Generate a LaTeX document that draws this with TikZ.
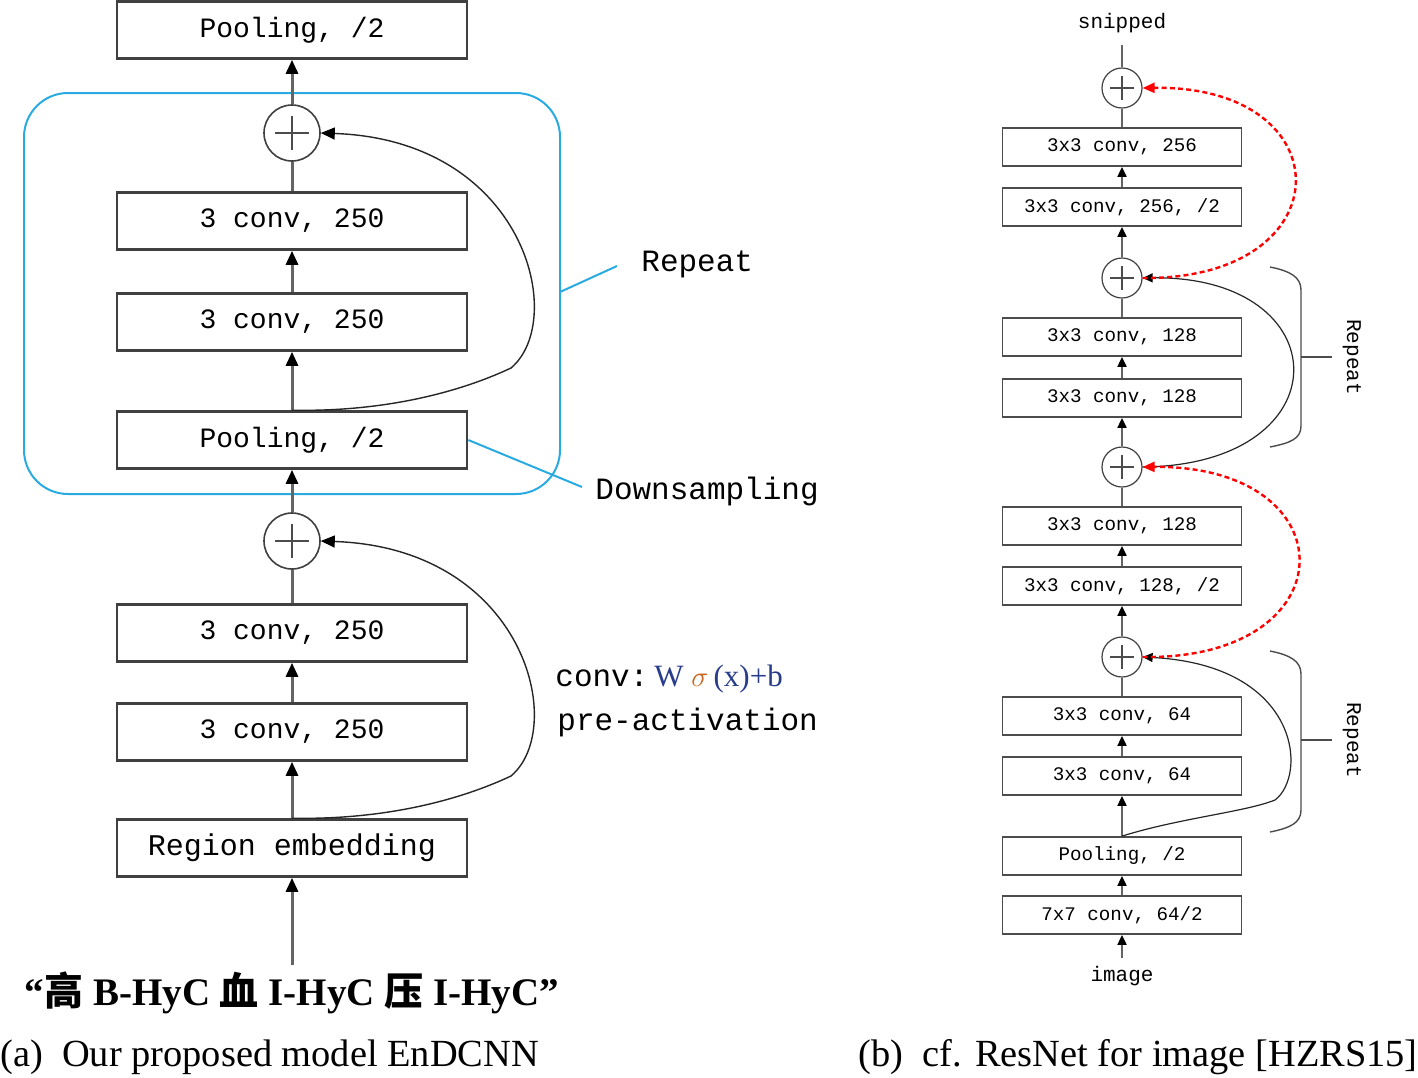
\documentclass[tikz,border=0pt]{standalone}
\usepackage{fontspec}
\setmainfont{Liberation Serif}
\setmonofont{Liberation Mono}
\newfontfamily\cjk{Noto Sans CJK SC}
\usetikzlibrary{arrows.meta}
\definecolor{repblue}{RGB}{41,171,226}
\definecolor{stemgray}{RGB}{100,100,100}
\definecolor{fblue}{RGB}{40,60,140}
\definecolor{forange}{RGB}{200,100,30}
\begin{document}
\begin{tikzpicture}[x=0.5pt,y=-0.5pt,
  lbox/.style={draw=black!75, fill=white, line width=1.3pt, minimum width=175pt, minimum height=28.5pt, inner sep=0pt, font=\ttfamily\fontsize{14}{14}\selectfont},
  rbox/.style={draw=black!70, fill=white, line width=0.9pt, minimum width=119.5pt, minimum height=19pt, inner sep=0pt, font=\ttfamily\fontsize{9.6}{9.6}\selectfont},
  lplus/.style={circle, draw=black!75, fill=white, line width=0.8pt, minimum size=28pt, inner sep=0pt,
    path picture={\draw[black!70,line width=1pt] ([xshift=-8.5pt]path picture bounding box.center) -- ([xshift=8.5pt]path picture bounding box.center) ([yshift=-8.5pt]path picture bounding box.center) -- ([yshift=8.5pt]path picture bounding box.center);}},
  rplus/.style={circle, draw=black!75, fill=white, line width=0.6pt, minimum size=20pt, inner sep=0pt,
    path picture={\draw[black!70,line width=0.8pt] ([xshift=-6pt]path picture bounding box.center) -- ([xshift=6pt]path picture bounding box.center) ([yshift=-6pt]path picture bounding box.center) -- ([yshift=6pt]path picture bounding box.center);}},
  lstem/.style={draw=stemgray, line width=1.5pt},
  larr/.style={lstem, -{Triangle[length=7pt,width=6pt,color=black]}},
  rstem/.style={draw=stemgray, line width=1pt},
  rarr/.style={rstem, -{Triangle[length=5pt,width=4.5pt,color=black]}},
  lskip/.style={draw=black!85, line width=0.7pt, -{Triangle[length=7pt,width=6pt,color=black]}},
  rskip/.style={draw=black!85, line width=0.6pt, -{Triangle[length=5pt,width=4.5pt,color=black]}},
  redskip/.style={draw=red, line width=1.2pt, dash pattern=on 2.5pt off 1.6pt, -{Triangle[length=6pt,width=5pt,color=red]}},
  mlabel/.style={font=\ttfamily\fontsize{15.5}{15.5}\selectfont, inner sep=0pt},
  rlabel/.style={font=\ttfamily\fontsize{10.5}{10.5}\selectfont, inner sep=0pt},
  bluel/.style={draw=repblue, line width=1pt},
  bracel/.style={draw=black!70, line width=0.7pt}
]
\fill[white] (0,0) rectangle (1418,1077);
\useasboundingbox (0,0) rectangle (1418,1077);

% ---------- left panel ----------
\draw[bluel, rounded corners=22pt] (24,93) rectangle (560,494);

\node[lbox] (p0) at (292,30) {Pooling, /2};
\node[lplus] (s1) at (292,133) {};
\node[lbox] (c1) at (292,221) {3 conv, 250};
\node[lbox] (c2) at (292,322) {3 conv, 250};
\node[lbox] (p1) at (292,440) {Pooling, /2};
\node[lplus] (s2) at (292,541) {};
\node[lbox] (c3) at (292,633) {3 conv, 250};
\node[lbox] (c4) at (292,732) {3 conv, 250};
\node[lbox, font=\ttfamily\fontsize{15}{15}\selectfont] (re) at (292,848) {Region embedding};
\coordinate (inTop) at (292,965);
\node[font=\bfseries\fontsize{19.5}{19.5}\selectfont, inner sep=0pt] (inp) at (292,993) {“{\cjk 高} B-HyC {\cjk 血} I-HyC {\cjk 压} I-HyC”};

\draw[larr] (s1.north) -- (p0.south);
\draw[lstem] (c1.north) -- (s1.south);
\draw[larr] (c2.north) -- (c1.south);
\draw[larr] (p1.north) -- (c2.south);
\draw[larr] (s2.north) -- (p1.south);
\draw[lstem] (c3.north) -- (s2.south);
\draw[larr] (c4.north) -- (c3.south);
\draw[larr] (re.north) -- (c4.south);
\draw[larr] (inTop) -- (re.south);

\draw[lskip] (p1.north) .. controls (385,412) and (460,392) .. (511,368)
  .. controls (568,320) and (525,140) .. (s1.east);
\draw[lskip] (re.north) .. controls (385,820) and (460,800) .. (511,776)
  .. controls (568,728) and (525,548) .. (s2.east);

\node[mlabel, anchor=west] (rep) at (641,264) {Repeat};
\coordinate (repA) at (560,292);
\coordinate (repB) at (617,266);
\draw[bluel] (repA) -- (repB);
\node[mlabel, anchor=west] (down) at (595,491) {Downsampling};
\coordinate (downB) at (582,487);
\draw[bluel] (p1.east) -- (downB);

\node[mlabel, anchor=base west] (conv) at (555,686) {conv:};
\node[anchor=base west, inner sep=0pt, font=\fontsize{15.5}{15.5}\selectfont] (form) at (conv.base east) {\,\textcolor{fblue}{W}\ \textcolor{forange}{$\sigma$}\,\textcolor{fblue}{(x)+b}};
\node[mlabel, anchor=west] (preact) at (557,722) {pre-activation};

\node[anchor=west, inner sep=0pt, font=\fontsize{19.2}{19.2}\selectfont] (capa) at (0,1057) {(a)\ \ Our proposed model EnDCNN};

% ---------- right panel ----------
\node[rlabel] (snip) at (1122,23) {snipped};
\coordinate (snipB) at (1122,45);
\node[rplus] (cA) at (1122,88) {};
\node[rbox] (r1) at (1122,147) {3x3 conv, 256};
\node[rbox] (r2) at (1122,207) {3x3 conv, 256, /2};
\node[rplus] (cB) at (1122,278) {};
\node[rbox] (r3) at (1122,337) {3x3 conv, 128};
\node[rbox] (r4) at (1122,398) {3x3 conv, 128};
\node[rplus] (cC) at (1122,467) {};
\node[rbox] (r5) at (1122,526) {3x3 conv, 128};
\node[rbox] (r6) at (1122,586) {3x3 conv, 128, /2};
\node[rplus] (cD) at (1122,657) {};
\node[rbox] (r7) at (1122,716) {3x3 conv, 64};
\node[rbox] (r8) at (1122,776) {3x3 conv, 64};
\node[rbox] (r9) at (1122,856) {Pooling, /2};
\node[rbox] (r10) at (1122,915) {7x7 conv, 64/2};
\node[rlabel] (img) at (1122,976) {image};
\coordinate (imgT) at (1122,958);

\draw[rstem] (cA.north) -- (snipB);
\draw[rstem] (r1.north) -- (cA.south);
\draw[rarr] (r2.north) -- (r1.south);
\draw[rarr] (cB.north) -- (r2.south);
\draw[rstem] (r3.north) -- (cB.south);
\draw[rarr] (r4.north) -- (r3.south);
\draw[rarr] (cC.north) -- (r4.south);
\draw[rstem] (r5.north) -- (cC.south);
\draw[rarr] (r6.north) -- (r5.south);
\draw[rarr] (cD.north) -- (r6.south);
\draw[rstem] (r7.north) -- (cD.south);
\draw[rarr] (r8.north) -- (r7.south);
\draw[rarr] (r9.north) -- (r8.south);
\draw[rarr] (r10.north) -- (r9.south);
\draw[rarr] (imgT) -- (r10.south);

\draw[rskip] (r9.north) .. controls (1180,818) and (1245,812) .. (1275,800)
  .. controls (1308,775) and (1300,665) .. (cD.east);
\draw[rskip] (cC.east) .. controls (1345,465) and (1340,275) .. (cB.east);
\draw[redskip] (cB.east) .. controls (1345,280) and (1345,85) .. (cA.east);
\draw[redskip] (cD.east) .. controls (1350,660) and (1350,465) .. (cC.east);

% braces
\draw[bracel] (1270,267) .. controls (1290,271) and (1301,277) .. (1301,290) -- (1301,426)
  .. controls (1301,439) and (1290,443) .. (1270,447);
\coordinate (bt1) at (1301,357);
\node[rlabel, rotate=-90] (rep1) at (1352,357) {Repeat};
\draw[bracel] (bt1) -- (1332,357);
\draw[bracel] (1270,651) .. controls (1290,655) and (1301,661) .. (1301,674) -- (1301,810)
  .. controls (1301,823) and (1290,828) .. (1270,832);
\coordinate (bt2) at (1301,740);
\node[rlabel, rotate=-90] (rep2) at (1352,740) {Repeat};
\draw[bracel] (bt2) -- (1332,740);

\node[anchor=east, inner sep=0pt, font=\fontsize{19.2}{19.2}\selectfont] (capb) at (1418,1057) {(b)\ \ cf. ResNet for image [HZRS15]};
\end{tikzpicture}
\end{document}
